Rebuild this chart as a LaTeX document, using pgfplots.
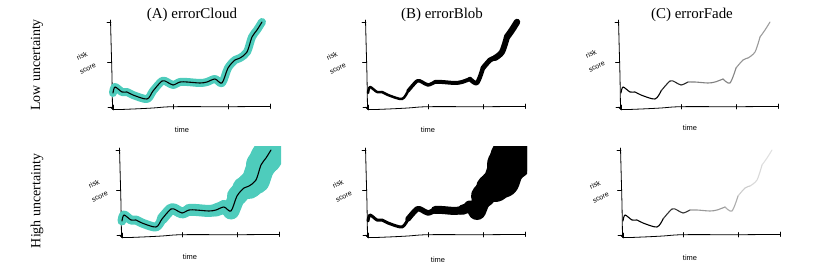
\documentclass[border=0pt]{standalone}
\usepackage{pgfplots}
\pgfplotsset{compat=1.18}
\usepackage{fontspec}
\setmainfont{Liberation Serif}
\newfontfamily\hand{Liberation Sans}
\definecolor{cloud}{RGB}{78,204,188}

% the risk-score curve, split into pieces (time, score)
\def\SA{(0,14) (2,20) (9,15) (14,15) (20,12) (34,8) (40,16)}
\def\SB{(40,16) (49,26) (54,25) (60,22) (67,25)}
\def\SC{(67,25) (74,25) (87,24) (94,25) (102,28)}
\def\SD{(102,28) (109,24) (115,39)}
\def\SE{(115,39) (122,47) (127,49)}
\def\SF{(127,49) (134,55) (139,70)}
\def\SG{(139,70) (144,77) (149,85)}
\def\SCa{(67,25) (74,25) (87,24) (94,25)}
\def\QPa{(94,25) (102,28)}
\def\QPb{(102,28) (109,24)}
\def\QPc{(109,24) (115,39)}
\def\QPd{(115,39) (122,47)}
\def\QPe{(122,47) (127,49)}
\def\QPf{(127,49) (134,55)}
\def\QPg{(134,55) (139,70)}
\def\QPh{(139,70) (144,77)}
\def\QPi{(144,77) (149,85)}
\def\Full{(0,14) (2,20) (9,15) (14,15) (20,12) (34,8) (40,16) (49,26) (54,25) (60,22) (67,25) (74,25) (87,24) (94,25) (102,28) (109,24) (115,39) (122,47) (127,49) (134,55) (139,70) (144,77) (149,85)}

\newcommand\seg[3]{\edef\tmp{\noexpand\addplot[#1,line width=#2bp] coordinates {#3};}\tmp}

\newcommand\axeslines{%
\addplot[black,line width=0.8bp] coordinates {(-2,0) (1,-2.5) (20,-2) (40,-1) (60,0.3) (115,0.3) (157,0.6)};
\addplot[black,line width=0.8bp] coordinates {(-0.5,-2.5) (-1,30) (-1.8,60) (-2.5,87)};
\addplot[black,line width=0.7bp,sharp plot] coordinates {(-5,0) (-0.5,0)};
\addplot[black,line width=0.7bp,sharp plot] coordinates {(-5.5,45) (-1.5,45)};
\addplot[black,line width=0.7bp,sharp plot] coordinates {(-6,85) (-2,85)};
\addplot[black,line width=0.7bp,sharp plot] coordinates {(0,-3) (0,2)};
\addplot[black,line width=0.7bp,sharp plot] coordinates {(60,-2) (60,2.5)};
\addplot[black,line width=0.7bp,sharp plot] coordinates {(115,-2) (115,2.5)};
\addplot[black,line width=0.7bp,sharp plot] coordinates {(157,-1.5) (157,3)};
}

\pgfplotsset{panel/.style={hide axis, scale only axis, width=167bp, height=97bp,
  xmin=-8, xmax=159, ymin=-8, ymax=89, anchor=south west,
  every axis plot/.append style={smooth, no marks, line cap=round, line join=round}}}

\begin{document}
\begin{tikzpicture}[x=1bp,y=1bp]
\path[use as bounding box] (0bp,0bp) rectangle (830bp,266bp);

% ---------- top row: low uncertainty
\begin{axis}[panel, at={(105bp,151bp)}]
\axeslines
\seg{cloud}{8}{\Full}
\seg{black}{1.1}{\Full}
\end{axis}

\begin{axis}[panel, at={(360bp,151bp)}]
\axeslines
\seg{black}{2.5}{\SA}
\seg{black}{3.5}{\SB}
\seg{black}{4}{\SC}
\seg{black}{4.5}{\SD}
\seg{black}{5}{\SE}
\seg{black}{6}{\SF}
\seg{black}{6.5}{\SG}
\end{axis}

\begin{axis}[panel, at={(613bp,151bp)}]
\axeslines
\seg{black}{1.1}{\SA}
\seg{black!85}{1.1}{\SB}
\seg{black!50}{1.1}{\SC}
\seg{black!48}{1.1}{\SD}
\seg{black!42}{1.1}{\SE}
\seg{black!40}{1.1}{\SF}
\seg{black!38}{1.1}{\SG}
\end{axis}

% ---------- bottom row: high uncertainty
\begin{axis}[panel, at={(114bp,23bp)}]
\axeslines
\seg{cloud}{9}{\SA}
\seg{cloud}{11}{\SB}
\seg{cloud}{12}{\SCa}
\seg{cloud}{13}{\QPa}
\seg{cloud}{14}{\QPb}
\seg{cloud}{17}{\QPc}
\seg{cloud}{20}{\QPd}
\seg{cloud}{23}{\QPe}
\seg{cloud}{26}{\QPf}
\seg{cloud}{28}{\QPg}
\seg{cloud}{30}{\QPh}
\seg{cloud}{32}{\QPi}
\seg{black}{1.1}{\Full}
\end{axis}

\begin{axis}[panel, at={(360bp,23bp)}]
\axeslines
\seg{black}{3}{\SA}
\seg{black}{5.5}{\SB}
\seg{black}{8}{\SCa}
\seg{black}{10}{\QPa}
\seg{black}{13}{\QPb}
\seg{black}{18}{\QPc}
\seg{black}{24}{\QPd}
\seg{black}{28}{\QPe}
\seg{black}{32}{\QPf}
\seg{black}{36}{\QPg}
\seg{black}{40}{\QPh}
\seg{black}{44}{\QPi}
\end{axis}

\begin{axis}[panel, at={(615bp,23bp)}]
\axeslines
\seg{black}{1.1}{\SA}
\seg{black!80}{1.1}{\SB}
\seg{black!40}{1.1}{\SC}
\seg{black!32}{1.1}{\SD}
\seg{black!20}{1.1}{\SE}
\seg{black!15}{1.1}{\SF}
\seg{black!12}{1.1}{\SG}
\end{axis}

% ---------- texts
\node[font=\fontsize{15}{17}\selectfont] at (192bp,251bp) {(A) errorCloud};
\node[font=\fontsize{15}{17}\selectfont] at (442bp,251bp) {(B) errorBlob};
\node[font=\fontsize{15}{17}\selectfont] at (692bp,251bp) {(C) errorFade};
\node[rotate=90,font=\fontsize{14}{16}\selectfont] at (37bp,201bp) {Low uncertainty};
\node[rotate=90,font=\fontsize{14}{16}\selectfont] at (37bp,65bp) {High uncertainty};

\foreach \x/\y in {85/203, 335/203, 594/205, 97/75, 341/75, 598/74}{
  \node[rotate=25,inner sep=0pt,font=\hand\fontsize{7}{8}\selectfont] at (\x bp-3bp,\y bp+7bp) {risk};
  \node[rotate=25,inner sep=0pt,font=\hand\fontsize{7}{8}\selectfont] at (\x bp+3bp,\y bp-6bp) {score};
}
\foreach \x/\y in {182/136, 428/136, 690/138, 190/9, 438/6, 690/8}
  \node[inner sep=0pt,font=\hand\fontsize{7.5}{8}\selectfont] at (\x bp,\y bp) {time};
\end{tikzpicture}
\end{document}
